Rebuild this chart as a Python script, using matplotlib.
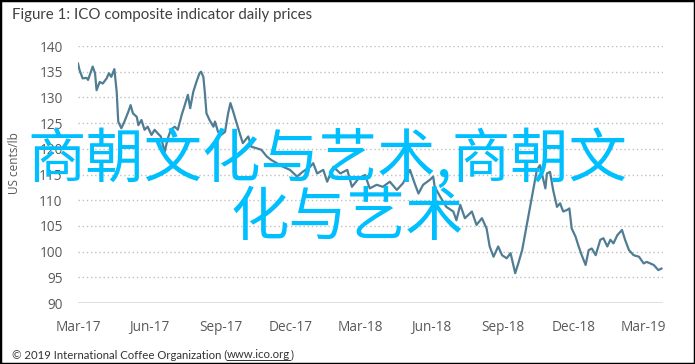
import matplotlib
matplotlib.use('Agg')
import matplotlib.pyplot as plt
import matplotlib.dates as mdates
from matplotlib.patches import Rectangle
import pandas as pd

# ICO composite indicator (US cents/lb)
dates = [
    '2017-03-01', '2017-03-03', '2017-03-07', '2017-03-12', '2017-03-14', '2017-03-20',
    '2017-03-23', '2017-03-25', '2017-03-29', '2017-04-02', '2017-04-07', '2017-04-10',
    '2017-04-13', '2017-04-17', '2017-04-20', '2017-04-22', '2017-04-26', '2017-04-30',
    '2017-05-05', '2017-05-08', '2017-05-11', '2017-05-16', '2017-05-18', '2017-05-22',
    '2017-05-26', '2017-05-30', '2017-06-04', '2017-06-08', '2017-06-12', '2017-06-16',
    '2017-06-21', '2017-06-25', '2017-06-29', '2017-07-04', '2017-07-08', '2017-07-13',
    '2017-07-17', '2017-07-21', '2017-07-24', '2017-07-28', '2017-08-01', '2017-08-05',
    '2017-08-07', '2017-08-10', '2017-08-12', '2017-08-14', '2017-08-18', '2017-08-23',
    '2017-08-25', '2017-08-29', '2017-09-02', '2017-09-07', '2017-09-11', '2017-09-14',
    '2017-09-17', '2017-09-22', '2017-09-26', '2017-09-30', '2017-10-07', '2017-10-11',
    '2017-10-18', '2017-10-24', '2017-10-31', '2017-11-06', '2017-11-13', '2017-11-21',
    '2017-11-30', '2017-12-09', '2017-12-17', '2017-12-26', '2017-12-30', '2018-01-04',
    '2018-01-12', '2018-01-17', '2018-01-25', '2018-02-03', '2018-02-12', '2018-02-18',
    '2018-02-27', '2018-03-07', '2018-03-13', '2018-03-22', '2018-03-30', '2018-04-08',
    '2018-04-17', '2018-04-25', '2018-05-04', '2018-05-10', '2018-05-15', '2018-05-21',
    '2018-05-30', '2018-06-03', '2018-06-05', '2018-06-12', '2018-06-20', '2018-06-29',
    '2018-07-03', '2018-07-08', '2018-07-14', '2018-07-23', '2018-07-29', '2018-08-05',
    '2018-08-11', '2018-08-15', '2018-08-20', '2018-08-26', '2018-08-31', '2018-09-06',
    '2018-09-11', '2018-09-17', '2018-09-21', '2018-09-26', '2018-09-30', '2018-10-07',
    '2018-10-11', '2018-10-15', '2018-10-19', '2018-10-26', '2018-10-28', '2018-11-01',
    '2018-11-05', '2018-11-10', '2018-11-14', '2018-11-18', '2018-11-23', '2018-11-26',
    '2018-11-29', '2018-12-04', '2018-12-08', '2018-12-12', '2018-12-17', '2018-12-21',
    '2018-12-25', '2018-12-30', '2019-01-05', '2019-01-09', '2019-01-14', '2019-01-18',
    '2019-01-22', '2019-01-27', '2019-02-02', '2019-02-06', '2019-02-11', '2019-02-17',
    '2019-02-24', '2019-03-02', '2019-03-06', '2019-03-15', '2019-03-21', '2019-03-25',
]
prices = [
    136.6, 135.3, 133.7, 133.8, 133.4, 136.0,
    134.7, 131.4, 133.0, 132.7, 133.7, 134.7,
    134.0, 135.5, 131.1, 125.3, 124.0, 125.3,
    127.2, 128.5, 126.9, 126.2, 124.6, 125.6,
    123.7, 124.3, 122.7, 123.7, 123.0, 122.4,
    119.4, 122.0, 123.7, 124.3, 123.7, 126.6,
    128.5, 130.5, 127.9, 131.1, 133.0, 134.7,
    135.0, 134.0, 130.8, 126.9, 125.6, 124.3,
    125.3, 123.3, 122.7, 123.3, 126.9, 128.9,
    127.5, 125.0, 123.0, 121.1, 122.4, 120.4,
    120.1, 119.8, 118.5, 117.8, 117.2, 116.5,
    115.9, 114.6, 115.6, 116.5, 117.2, 115.2,
    115.9, 113.6, 116.5, 115.2, 115.9, 112.6,
    114.3, 114.9, 112.3, 113.0, 112.6, 113.6,
    112.0, 113.3, 115.9, 113.3, 111.3, 113.0,
    114.0, 114.6, 112.6, 110.7, 108.7, 107.8,
    106.1, 109.1, 106.5, 107.8, 105.2, 106.5,
    104.5, 101.0, 99.0, 101.0, 99.3, 98.7,
    99.7, 95.8, 97.7, 100.3, 103.6, 109.4,
    112.6, 115.9, 116.8, 112.3, 115.2, 115.5,
    112.0, 108.7, 109.4, 107.8, 108.1, 108.4,
    104.5, 102.9, 101.0, 99.3, 97.4, 100.3,
    100.6, 99.3, 102.3, 102.6, 101.0, 102.3,
    101.6, 103.2, 104.2, 102.3, 100.3, 99.3,
    99.0, 97.7, 98.0, 97.4, 96.4, 96.7,
]
y_ticks = [90, 95, 100, 105, 110, 115, 120, 125, 130, 135, 140]
x_ticks = ['2017-03-01', '2017-06-01', '2017-09-01', '2017-12-01', '2018-03-01',
           '2018-06-01', '2018-09-01', '2018-12-01', '2019-03-01']

title = 'Figure 1: ICO composite indicator daily prices'
footer = '\u00a9 2019 International Coffee Organization ('
url = 'www.ico.org'
watermark1 = '商朝文化与艺术,商朝文'
watermark2 = '化与艺术'

grey = '#595959'

fig = plt.figure(figsize=(6.95, 3.64), dpi=100)
ax = fig.add_axes([78 / 695, 1 - 303 / 364, 585 / 695, 257 / 364])

x = pd.to_datetime(dates)
ax.plot(x, prices, color='#507d93', lw=1.6, zorder=3)

ax.set_ylim(90, 140)
ax.set_yticks(y_ticks)
ax.set_xlim(pd.Timestamp('2017-03-01'), pd.Timestamp('2019-03-27'))
ax.set_xticks(pd.to_datetime(x_ticks))
ax.xaxis.set_major_formatter(mdates.DateFormatter('%b-%y'))

for v in y_ticks[1:]:
    ax.axhline(v, color='#c0c0c0', lw=1.0, ls=(0, (1, 2)), zorder=1)
ax.axhline(90, color='#d9d9d9', lw=1.2, zorder=1)

for s in ax.spines.values():
    s.set_visible(False)
ax.tick_params(length=0, labelsize=9.8, colors=grey)
ax.tick_params(axis='x', pad=12)
ax.tick_params(axis='y', pad=11)
for lab in ax.get_xticklabels() + ax.get_yticklabels():
    lab.set_fontfamily('Open Sans')

fig.text(15 / 695, 1 - 163 / 364, 'US cents/lb', rotation=90, ha='center', va='center',
         fontsize=8.5, color=grey, family='Open Sans')

fig.text(12 / 695, 1 - 15 / 364, title, ha='left', va='center', fontsize=10.8,
         color='#404040', family='Lato')

fs = 8.2
t1 = fig.text(12 / 695, 1 - 355 / 364, footer, ha='left', va='center', fontsize=fs,
              color='#333333', family='Lato')
fig.canvas.draw()
r = fig.canvas.get_renderer()
bb = t1.get_window_extent(r)
t2 = fig.text(bb.x1 / 695, 1 - 355 / 364, url, ha='left', va='center', fontsize=fs,
              color='#333333', family='Lato')
bb2 = t2.get_window_extent(r)
fig.text(bb2.x1 / 695, 1 - 355 / 364, ')', ha='left', va='center', fontsize=fs,
         color='#333333', family='Lato')
fig.add_artist(plt.Line2D([bb2.x0 / 695, bb2.x1 / 695], [(bb2.y0 + 1) / 364] * 2,
                          color='#333333', lw=0.7))

fig.text(327 / 695, 1 - 160 / 364, watermark1, ha='center', va='center', fontsize=42,
         color='#00bfff', family=['Noto Sans CJK SC', 'DejaVu Sans'], zorder=10)
fig.text(347 / 695, 1 - 218 / 364, watermark2, ha='center', va='center', fontsize=42,
         color='#00bfff', family=['Noto Sans CJK SC', 'DejaVu Sans'], zorder=10)

fig.patches.append(Rectangle((0, 0), 1, 1, transform=fig.transFigure, fill=False,
                             ec='black', lw=2.5))

fig.savefig('out.png', dpi=100)
